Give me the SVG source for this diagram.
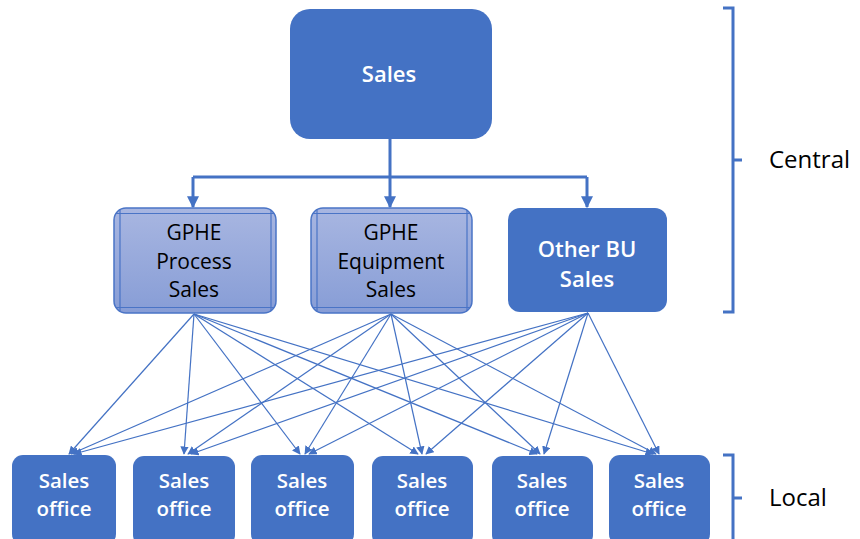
<svg xmlns="http://www.w3.org/2000/svg" width="860" height="539" viewBox="0 0 860 539">
<defs>
<linearGradient id="g" x1="0" y1="0" x2="0" y2="1">
<stop offset="0" stop-color="#a8b6e1"/>
<stop offset="1" stop-color="#879dd6"/>
</linearGradient>
<marker id="big" viewBox="0 0 10 10" refX="9" refY="5" markerWidth="4" markerHeight="4" orient="auto" markerUnits="strokeWidth">
<path d="M0,0 L10,5 L0,10 z" fill="#4472c4"/>
</marker>
<marker id="sm" viewBox="0 0 10 10" refX="9" refY="5" markerWidth="7" markerHeight="7" orient="auto" markerUnits="strokeWidth">
<path d="M0,0 L10,5 L0,10 z" fill="#4472c4"/>
</marker>
</defs>
<style>
.solid{fill:#4472c4;}
.proc{fill:url(#g);stroke:#4a74c6;stroke-width:1.5;}
.inner{stroke:#4a74c6;stroke-width:1.2;fill:none;}
.wt{fill:#ffffff;font-family:"Open Sans","Liberation Sans",Arial,sans-serif;font-size:22px;font-weight:600;text-anchor:middle;}
.wt2{fill:#ffffff;font-family:"Open Sans","Liberation Sans",Arial,sans-serif;font-size:20.5px;font-weight:600;text-anchor:middle;}
.bt{fill:#000000;font-family:"Open Sans","Liberation Sans",Arial,sans-serif;font-size:21px;text-anchor:middle;}
.lbl{fill:#000000;font-family:"Open Sans","Liberation Sans",Arial,sans-serif;font-size:24px;}
.thick{stroke:#4472c4;stroke-width:3;fill:none;}
.thin{stroke:#4472c4;stroke-width:1.2;fill:none;marker-end:url(#sm);}
.br{stroke:#4472c4;stroke-width:3;fill:none;}
</style>

<g id="connectors">
<path class="thick" d="M390,139 V177 M193,177 H587"/>
<line class="thick" x1="193" y1="177" x2="193" y2="207" marker-end="url(#big)"/>
<line class="thick" x1="390" y1="177" x2="390" y2="207" marker-end="url(#big)"/>
<line class="thick" x1="587" y1="177" x2="587" y2="207" marker-end="url(#big)"/>

<line class="thin" x1="194" y1="314" x2="69" y2="454"/>
<line class="thin" x1="194" y1="314" x2="184" y2="454"/>
<line class="thin" x1="194" y1="314" x2="300" y2="454"/>
<line class="thin" x1="194" y1="314" x2="418" y2="454"/>
<line class="thin" x1="194" y1="314" x2="537" y2="454"/>
<line class="thin" x1="194" y1="314" x2="653" y2="454"/>

<line class="thin" x1="391" y1="314" x2="71" y2="454"/>
<line class="thin" x1="391" y1="314" x2="188" y2="454"/>
<line class="thin" x1="391" y1="314" x2="305" y2="454"/>
<line class="thin" x1="391" y1="314" x2="422" y2="454"/>
<line class="thin" x1="391" y1="314" x2="540" y2="454"/>
<line class="thin" x1="391" y1="314" x2="656" y2="454"/>

<line class="thin" x1="588" y1="313" x2="74" y2="454"/>
<line class="thin" x1="588" y1="313" x2="191" y2="454"/>
<line class="thin" x1="588" y1="313" x2="309" y2="454"/>
<line class="thin" x1="588" y1="313" x2="426" y2="454"/>
<line class="thin" x1="588" y1="313" x2="544" y2="454"/>
<line class="thin" x1="588" y1="313" x2="659" y2="454"/>
</g>

<g id="sales">
<rect class="solid" x="290" y="9" width="202" height="130" rx="20"/>
<text class="wt" x="389" y="82">Sales</text>
</g>

<g id="gphe-process">
<rect class="proc" x="114" y="208" width="162" height="105" rx="12"/>
<path class="inner" d="M120,210 V311 M271,210 V311 M116,213.5 H274 M116,307.5 H274"/>
<text class="bt" x="194" y="240">GPHE</text>
<text class="bt" x="194" y="268.5">Process</text>
<text class="bt" x="194" y="297">Sales</text>
</g>

<g id="gphe-equipment">
<rect class="proc" x="311" y="208" width="161" height="105" rx="12"/>
<path class="inner" d="M317,210 V311 M467,210 V311 M313,213.5 H470 M313,307.5 H470"/>
<text class="bt" x="391" y="240">GPHE</text>
<text class="bt" x="391" y="268.5">Equipment</text>
<text class="bt" x="391" y="297">Sales</text>
</g>

<g id="other-bu">
<rect class="solid" x="508" y="208" width="159" height="104" rx="12"/>
<text class="wt" x="587" y="257">Other BU</text>
<text class="wt" x="587" y="287">Sales</text>
</g>

<g id="office1"><rect class="solid" x="12" y="455" width="104" height="90" rx="11"/><text class="wt2" x="64" y="488">Sales</text><text class="wt2" x="64" y="516">office</text></g>
<g id="office2"><rect class="solid" x="133" y="456" width="102" height="90" rx="11"/><text class="wt2" x="184" y="488">Sales</text><text class="wt2" x="184" y="516">office</text></g>
<g id="office3"><rect class="solid" x="251" y="455" width="103" height="90" rx="11"/><text class="wt2" x="302" y="488">Sales</text><text class="wt2" x="302" y="516">office</text></g>
<g id="office4"><rect class="solid" x="372" y="456" width="101" height="90" rx="11"/><text class="wt2" x="422" y="488">Sales</text><text class="wt2" x="422" y="516">office</text></g>
<g id="office5"><rect class="solid" x="492" y="456" width="101" height="90" rx="11"/><text class="wt2" x="542" y="488">Sales</text><text class="wt2" x="542" y="516">office</text></g>
<g id="office6"><rect class="solid" x="609" y="455" width="101" height="90" rx="11"/><text class="wt2" x="659" y="488">Sales</text><text class="wt2" x="659" y="516">office</text></g>

<g id="central">
<path class="br" d="M723,8 H733 V312 H723 M733,160 H742"/>
<text class="lbl" x="769" y="168">Central</text>
</g>

<g id="local">
<path class="br" d="M723,455 H733 V545 M733,498 H742"/>
<text class="lbl" x="769" y="506">Local</text>
</g>
</svg>
